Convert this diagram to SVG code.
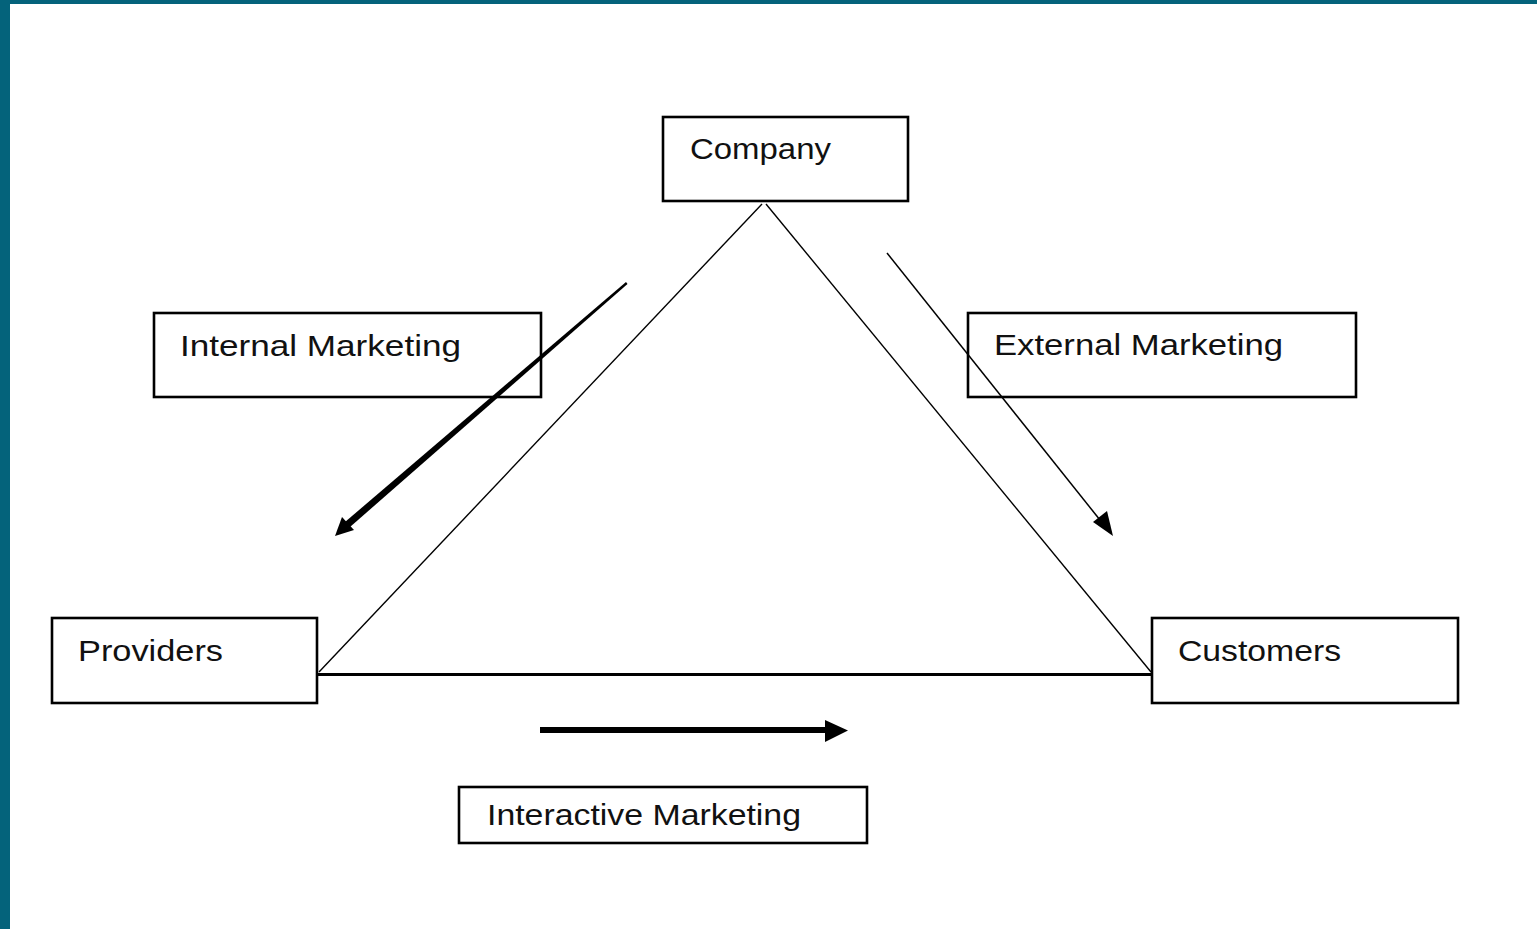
<svg xmlns="http://www.w3.org/2000/svg" width="1537" height="929" viewBox="0 0 1537 929">
<defs>
<style>
.box{fill:none;stroke:#000;stroke-width:2.6}
.lbl{font-family:"Liberation Sans",Arial,sans-serif;font-size:29px;fill:#111}
.thin{stroke:#000;stroke-width:1.4;fill:none}
</style>
</defs>
<rect x="0" y="0" width="1537" height="929" fill="#fff"/>
<rect x="0" y="0" width="1537" height="4" fill="#04637B"/>
<rect x="0" y="0" width="10" height="929" fill="#04637B"/>
<g id="connectors">
<line class="thin" x1="762" y1="204" x2="319" y2="672"/>
<line class="thin" x1="766" y1="204" x2="1151" y2="672"/>
<line x1="318" y1="674.5" x2="1152" y2="674.5" stroke="#000" stroke-width="3"/>
<polygon points="626,282 627.5,284 350,527 345,522" fill="#000"/>
<polygon points="335,536 342,517 354,530" fill="#000"/>
<line x1="887" y1="253" x2="1100" y2="520" stroke="#000" stroke-width="1.5"/>
<polygon points="1113,536 1093,522 1107,511" fill="#000"/>
<line x1="540" y1="730" x2="828" y2="730" stroke="#000" stroke-width="6"/>
<polygon points="825,720 848,730.5 825,742" fill="#000"/>
</g>
<g id="company">
<rect class="box" x="663" y="117" width="245" height="84"/>
<text class="lbl" x="690" y="159" textLength="141" lengthAdjust="spacingAndGlyphs">Company</text>
</g>
<g id="internal-marketing">
<rect class="box" x="154" y="313" width="387" height="84"/>
<text class="lbl" x="180" y="356" textLength="281" lengthAdjust="spacingAndGlyphs">Internal Marketing</text>
</g>
<g id="external-marketing">
<rect class="box" x="968" y="313" width="388" height="84"/>
<text class="lbl" x="994" y="355" textLength="289" lengthAdjust="spacingAndGlyphs">External Marketing</text>
</g>
<g id="providers">
<rect class="box" x="52" y="618" width="265" height="85"/>
<text class="lbl" x="78" y="661" textLength="145" lengthAdjust="spacingAndGlyphs">Providers</text>
</g>
<g id="customers">
<rect class="box" x="1152" y="618" width="306" height="85"/>
<text class="lbl" x="1178" y="661" textLength="163" lengthAdjust="spacingAndGlyphs">Customers</text>
</g>
<g id="interactive-marketing">
<rect class="box" x="459" y="787" width="408" height="56"/>
<text class="lbl" x="487" y="825" textLength="314" lengthAdjust="spacingAndGlyphs">Interactive Marketing</text>
</g>
</svg>
